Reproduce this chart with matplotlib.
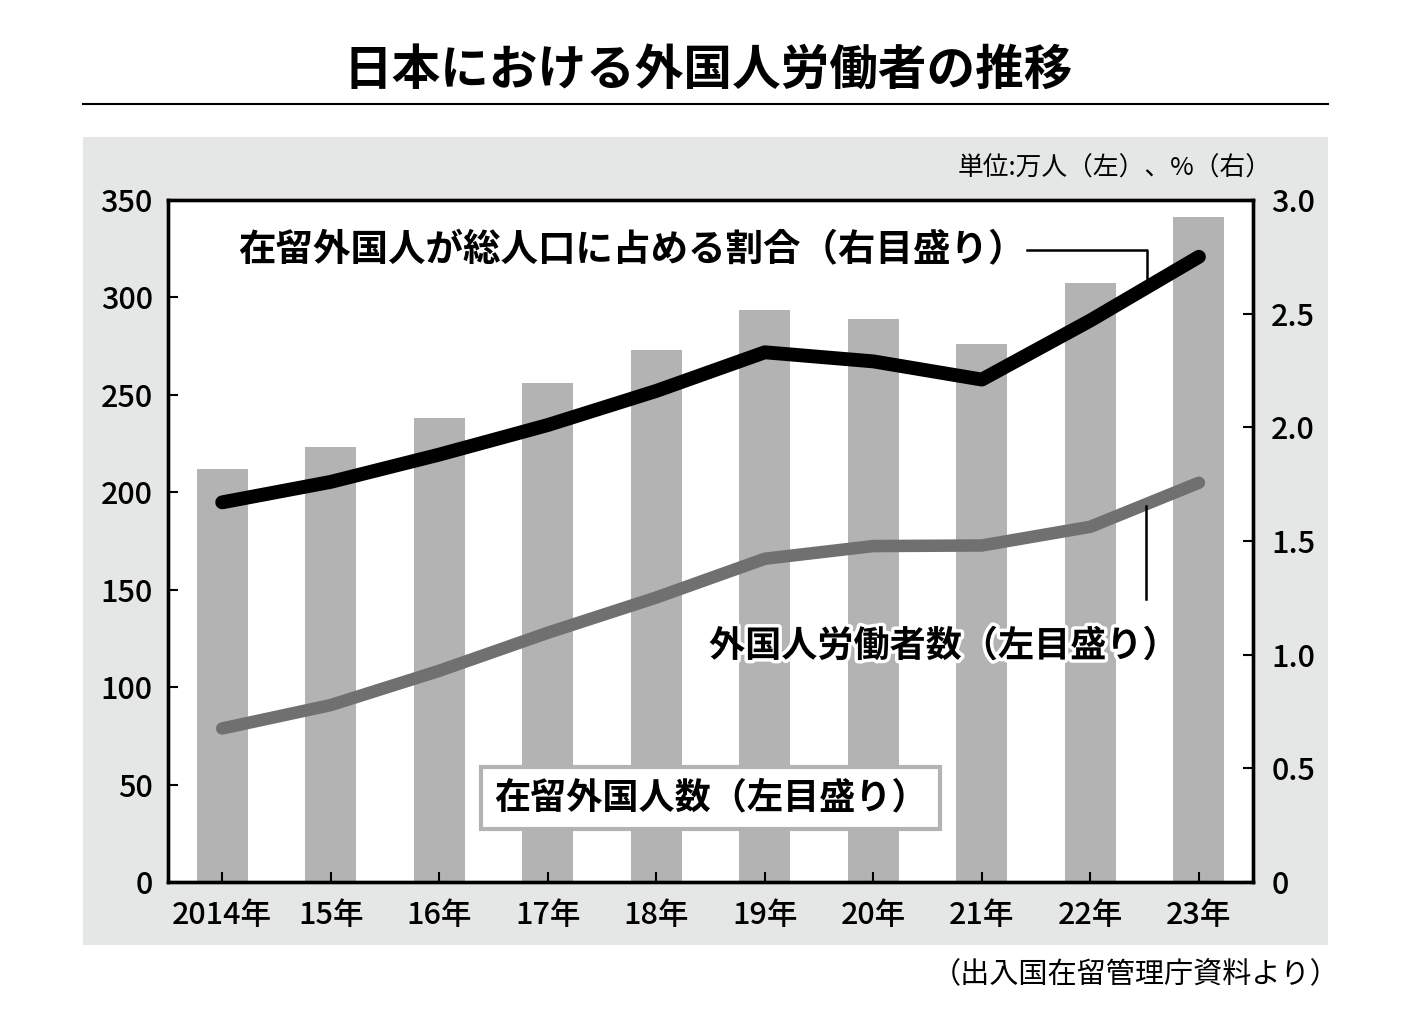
import matplotlib
matplotlib.use("Agg")
import matplotlib.pyplot as plt
import matplotlib.patheffects as pe
from matplotlib.patches import Rectangle
from matplotlib.lines import Line2D

plt.rcParams['font.family'] = ['Noto Sans CJK JP', 'DejaVu Sans']

# データ
nen = ['2014年', '15年', '16年', '17年', '18年', '19年', '20年', '21年', '22年', '23年']
zairyu = [212.1, 223.2, 238.3, 256.2, 273.1, 293.3, 288.7, 276.1, 307.5, 341.1]  # 在留外国人数(万人)
roudousha = [78.8, 90.8, 108.4, 127.9, 146.0, 165.9, 172.4, 172.7, 182.3, 204.9]  # 外国人労働者数(万人)
wariai = [1.67, 1.76, 1.88, 2.01, 2.16, 2.33, 2.29, 2.21, 2.47, 2.75]  # 総人口に占める割合(%)
hidari_ticks = [0, 50, 100, 150, 200, 250, 300, 350]
migi_ticks = [0, 0.5, 1.0, 1.5, 2.0, 2.5, 3.0]
migi_labels = ['0', '0.5', '1.0', '1.5', '2.0', '2.5', '3.0']

fig = plt.figure(figsize=(14.16, 10.36), dpi=100)

# 背景の灰色パネル
fig.patches.append(Rectangle((0.0586, 0.0878), 0.8793, 0.78, transform=fig.transFigure,
                             facecolor='#e5e6e6', edgecolor='none', zorder=-5))
# タイトルと下線
fig.text(0.5, 0.932, '日本における外国人労働者の推移', ha='center', va='center',
         fontsize=35, fontweight='bold')
fig.add_artist(Line2D([0.0586, 0.9379], [0.8995, 0.8995], transform=fig.transFigure,
                      color='black', linewidth=1.5))

ax = fig.add_axes([0.1186, 0.1486, 0.7664, 0.6584])
ax.set_facecolor('white')
x = list(range(len(nen)))
ax.bar(x, zairyu, width=0.47, color='#b3b3b3', zorder=1)
ax.plot(x, roudousha, color='#707070', linewidth=9, solid_capstyle='round',
        solid_joinstyle='miter', zorder=3)
ax.set_xlim(-0.5, 9.5)
ax.set_ylim(0, 350)
ax.set_yticks(hidari_ticks)
ax.set_xticks(x)
ax.set_xticklabels(nen)
ax.tick_params(direction='in', length=7, width=1.5, labelsize=22)
ax.tick_params(axis='x', pad=13)
ax.tick_params(axis='y', pad=11)
for s in ax.spines.values():
    s.set_linewidth(2.4)
for lbl in ax.get_xticklabels() + ax.get_yticklabels():
    lbl.set_fontweight('medium')

ax2 = ax.twinx()
ax2.plot(x, wariai, color='black', linewidth=10, solid_capstyle='round', zorder=4)
ax2.set_ylim(0, 3.0)
ax2.set_yticks(migi_ticks)
ax2.set_yticklabels(migi_labels)
ax2.tick_params(direction='in', length=7, width=1.5, labelsize=22, pad=13)
for s in ax2.spines.values():
    s.set_linewidth(2.4)
for lbl in ax2.get_yticklabels():
    lbl.set_fontweight('medium')

# 注記
ax2.text(0.15, 2.78, '在留外国人が総人口に占める割合（右目盛り）', fontsize=27,
         fontweight='bold', va='center', ha='left', zorder=6)
ax2.plot([7.42, 8.52, 8.52], [2.78, 2.78, 2.63], color='black', linewidth=1.8, zorder=5)

ax.text(6.65, 121, '外国人労働者数（左目盛り）', fontsize=26, fontweight='bold',
        va='center', ha='center', zorder=6,
        path_effects=[pe.withStroke(linewidth=5, foreground='white')])
ax.plot([8.51, 8.51], [193, 145], color='black', linewidth=1.8, zorder=5)

ax.text(4.5, 43, '在留外国人数（左目盛り）', fontsize=26, fontweight='bold',
        va='center', ha='center', zorder=6,
        bbox=dict(boxstyle='square,pad=0.35', facecolor='white', edgecolor='#b3b3b3',
                  linewidth=3))

fig.text(0.898, 0.837, '単位:万人（左）、%（右）', ha='right', va='center', fontsize=18.5)
fig.text(0.946, 0.059, '（出入国在留管理庁資料より）', ha='right', va='center', fontsize=21)

fig.savefig('out.png', dpi=100)
